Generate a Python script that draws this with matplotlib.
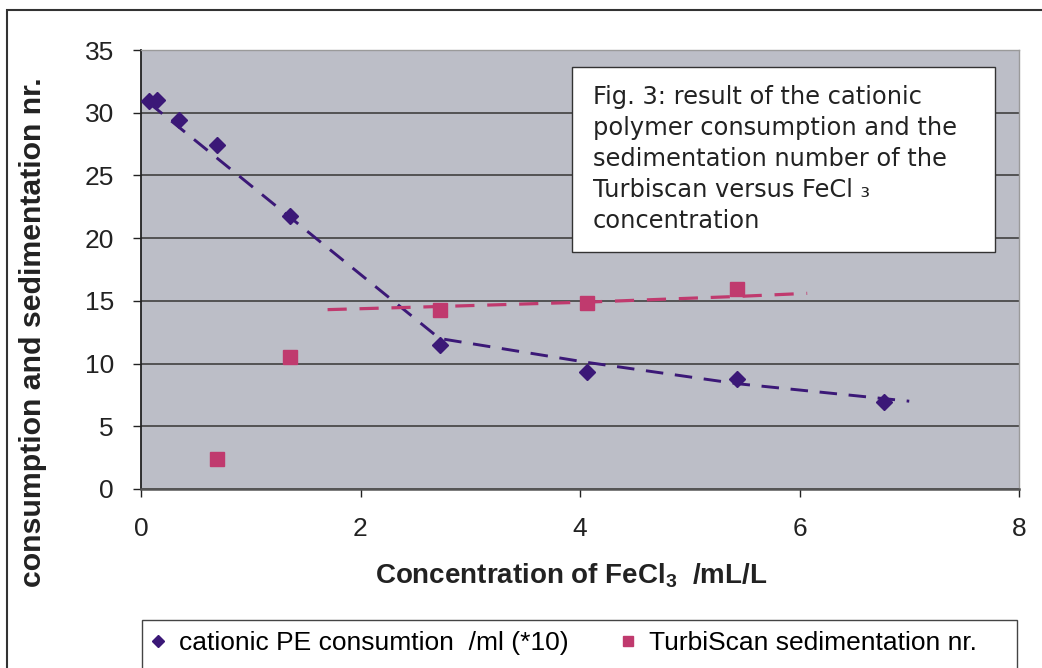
import matplotlib
matplotlib.use("Agg")
import matplotlib.pyplot as plt
from matplotlib.patches import Rectangle
from matplotlib.lines import Line2D

# ---- data ----
pe_x = [0.07, 0.15, 0.35, 0.69, 1.36, 2.72, 4.06, 5.43, 6.77]
pe_y = [30.9, 31.0, 29.4, 27.4, 21.8, 11.5, 9.3, 8.75, 6.95]
pe_trend_x = [0.07, 2.72, 4.06, 5.43, 7.0]
pe_trend_y = [30.8, 12.0, 10.1, 8.4, 7.0]

ts_x = [0.69, 1.36, 2.72, 4.06, 5.43]
ts_y = [2.4, 10.5, 14.3, 14.8, 15.95]
ts_trend_x = [1.7, 2.72, 4.06, 5.43, 6.07]
ts_trend_y = [14.3, 14.55, 14.9, 15.35, 15.6]

xticks = [0, 2, 4, 6, 8]
yticks = [0, 5, 10, 15, 20, 25, 30, 35]

legend_labels = ["cationic PE consumtion  /ml (*10)", "TurbiScan sedimentation nr."]
annot_text = ("Fig. 3: result of the cationic\npolymer consumption and the\n"
              "sedimentation number of the\nTurbiscan versus FeCl \u2083\nconcentration")

BLUE = "#3B1877"
PINK = "#C03A6E"

plt.rcParams['font.family'] = ['Liberation Sans', 'DejaVu Sans']
plt.rcParams['mathtext.fontset'] = 'custom'
plt.rcParams['mathtext.rm'] = 'Liberation Sans'
plt.rcParams['mathtext.bf'] = 'Liberation Sans:bold'

W, H = 1042, 668
fig = plt.figure(figsize=(W / 100, H / 100), dpi=100)
fig.patch.set_facecolor("white")

def fx(px):
    return px / W

def fy(py):
    return 1 - py / H

ax = fig.add_axes([fx(141), fy(489), fx(1019) - fx(141), fy(50) - fy(489)])
ax.set_facecolor("#BCBEC7")
ax.set_xlim(0, 8)
ax.set_ylim(0, 35)
ax.set_xticks(xticks)
ax.set_yticks(yticks)
ax.yaxis.grid(True, color="#4a4a4a", linewidth=1.3)
ax.set_axisbelow(True)
for s in ["top", "right"]:
    ax.spines[s].set_color("#9a9a9a")
    ax.spines[s].set_linewidth(1.0)
ax.spines["left"].set_color("#222222")
ax.spines["left"].set_linewidth(1.3)
ax.spines["bottom"].set_color("#555555")
ax.spines["bottom"].set_linewidth(1.8)
ax.tick_params(axis="both", direction="out", labelsize=19, colors="#222222", length=6, width=1.0)
ax.tick_params(axis="y", pad=13.5)
ax.tick_params(axis="x", pad=14)

ax.plot(pe_trend_x, pe_trend_y, linestyle=(0, (6, 4)), color=BLUE, linewidth=2.1, zorder=3)
ax.plot(ts_trend_x, ts_trend_y, linestyle=(0, (6, 4)), color=PINK, linewidth=2.3, zorder=3)
ax.plot(pe_x, pe_y, linestyle="none", marker="D", markersize=8, color=BLUE, zorder=4)
ax.plot(ts_x, ts_y, linestyle="none", marker="s", markersize=10, color=PINK, zorder=4)

fig.text(fx(33), fy(332), "consumption and sedimentation nr.", fontsize=21.8, fontweight="bold",
         rotation=90, ha="center", va="center", color="#222222")
fig.text(fx(571), fy(576), r"Concentration of FeCl$_{\mathbf{3}}$  /mL/L", fontsize=20,
         fontweight="bold", ha="center", va="center", color="#222222")

# annotation box
fig.patches.append(Rectangle((fx(572), fy(252)), fx(995) - fx(572), fy(67) - fy(252),
                             transform=fig.transFigure, facecolor="white",
                             edgecolor="#333333", linewidth=1.0, zorder=5))
fig.text(fx(593), fy(85), annot_text, fontsize=17.4, family="DejaVu Sans", color="#222222",
         va="top", ha="left", linespacing=1.37, zorder=6)

# outer frame
fig.patches.append(Rectangle((fx(7), fy(700)), fx(1100) - fx(7), fy(10) - fy(700),
                             transform=fig.transFigure, facecolor="none",
                             edgecolor="#333333", linewidth=1.5, zorder=1))

# legend frame + legend
fig.patches.append(Rectangle((fx(142), fy(700)), fx(1017) - fx(142), fy(620) - fy(700),
                             transform=fig.transFigure, facecolor="white",
                             edgecolor="#444444", linewidth=1.0, zorder=5))
handles = [Line2D([], [], linestyle="none", marker="D", markersize=6, color=BLUE),
           Line2D([], [], linestyle="none", marker="s", markersize=7, color=PINK)]
leg = fig.legend(handles, legend_labels, loc="center left", bbox_to_anchor=(fx(150), fy(643)),
                 ncol=2, frameon=False, fontsize=19, handlelength=0.6, handletextpad=0.5,
                 columnspacing=1.95, borderaxespad=0, borderpad=0)
leg.set_zorder(7)

fig.savefig("out.png", dpi=100)
